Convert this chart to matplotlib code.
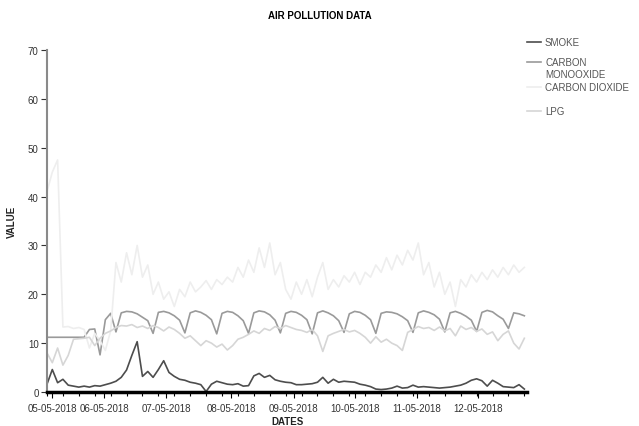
import numpy as np
import matplotlib
matplotlib.use("Agg")
import matplotlib.pyplot as plt
from matplotlib.lines import Line2D

plt.rcParams["font.family"] = ["Liberation Sans", "DejaVu Sans"]

# readings every 2 hours
hours = list(range(0, 181, 2))

smoke = [1.6, 4.6, 1.9, 2.6, 1.4, 1.2, 1.0, 1.2, 1.0, 1.3,
         1.2, 1.5, 1.8, 2.2, 3.0, 4.5, 7.5, 10.3, 3.2, 4.2,
         3.0, 4.6, 6.4, 4.0, 3.2, 2.6, 2.4, 2.0, 1.8, 1.5,
         0.1, 1.6, 2.2, 1.9, 1.6, 1.5, 1.7, 1.2, 1.3, 3.3,
         3.8, 3.0, 3.4, 2.5, 2.2, 2.0, 1.9, 1.5, 1.5, 1.6,
         1.7, 2.0, 3.0, 1.8, 2.6, 2.0, 2.2, 2.1, 2.0, 1.6,
         1.4, 1.1, 0.6, 0.5, 0.6, 0.8, 1.2, 0.8, 0.9, 1.4,
         1.0, 1.1, 1.0, 0.9, 0.8, 0.9, 1.0, 1.2, 1.4, 1.8,
         2.4, 2.7, 2.3, 1.2, 2.4, 1.8, 1.1, 1.0, 0.9, 1.5,
         0.6]

carbon_monoxide = [11.2, 11.2, 11.2, 11.2, 11.2, 11.2, 11.2, 11.2, 12.8, 12.9,
                   7.6, 14.8, 16.1, 12.3, 16.2, 16.5, 16.4, 16.0, 15.3, 14.6,
                   12.0, 16.3, 16.5, 16.2, 15.6, 14.7, 12.1, 16.2, 16.6, 16.3,
                   15.7, 14.8, 11.9, 16.1, 16.5, 16.3, 15.6, 14.6, 12.0, 16.2,
                   16.6, 16.4, 15.8, 14.7, 12.1, 16.1, 16.5, 16.3, 15.7, 14.8,
                   11.9, 16.2, 16.6, 16.2, 15.6, 14.6, 12.2, 16.0, 16.5, 16.3,
                   15.7, 14.8, 12.0, 16.1, 16.4, 16.3, 16.0, 15.4, 14.6, 12.2,
                   16.2, 16.6, 16.3, 15.8, 14.9, 12.3, 16.2, 16.5, 16.1, 15.5,
                   14.7, 12.4, 16.3, 16.7, 16.4, 15.6, 14.9, 13.0, 16.2, 16.0,
                   15.6]

carbon_dioxide = [41.0, 45.0, 47.5, 13.3, 13.4, 13.0, 13.2, 12.8, 9.0, 12.0,
                  10.5, 8.5, 12.5, 26.5, 22.5, 28.5, 24.0, 30.0, 23.5, 26.0,
                  20.0, 22.5, 19.0, 20.5, 17.5, 21.0, 19.5, 22.5, 20.5, 21.5,
                  22.8, 21.0, 23.0, 22.0, 23.5, 22.5, 25.5, 23.5, 27.0, 24.5,
                  29.5, 25.5, 30.5, 24.0, 26.5, 21.0, 19.0, 22.5, 20.0, 23.0,
                  19.5, 23.5, 26.5, 21.0, 23.0, 21.5, 23.8, 22.5, 24.5, 22.0,
                  24.5, 23.5, 26.0, 24.5, 27.5, 25.0, 28.0, 26.0, 29.0, 27.0,
                  30.5, 24.0, 26.5, 21.5, 24.5, 20.0, 22.5, 17.5, 23.0, 21.5,
                  24.0, 22.5, 24.5, 23.0, 25.0, 23.5, 25.5, 24.0, 26.0, 24.5,
                  25.5]

lpg = [8.0, 6.0, 9.0, 5.5, 7.5, 10.8, 10.9, 11.0, 11.2, 9.5,
       11.0, 12.0, 12.5, 13.2, 13.6, 13.5, 13.8, 13.2, 13.5, 13.0,
       13.6, 13.2, 12.5, 13.3, 12.8, 12.0, 11.0, 11.5, 10.5, 9.5,
       10.5, 10.0, 9.2, 9.8, 8.6, 9.5, 10.8, 11.2, 11.8, 12.5,
       12.0, 13.0, 12.6, 13.4, 13.0, 13.6, 13.2, 12.8, 12.6, 12.2,
       12.8, 11.5, 8.3, 11.5, 12.0, 12.4, 12.8, 12.3, 12.6, 12.0,
       11.2, 10.0, 11.3, 10.2, 10.8, 10.0, 9.5, 8.5, 12.2, 12.8,
       13.4, 13.0, 13.2, 12.6, 13.3, 12.5, 13.0, 11.5, 13.5, 12.8,
       13.2, 12.4, 12.9, 11.8, 12.3, 10.5, 11.8, 12.5, 10.0, 8.8,
       11.0]

tick_pos = [2, 21.5, 45, 69.5, 93, 116, 139.5, 162.5]
tick_labels = ["05-05-2018", "06-05-2018", "07-05-2018", "08-05-2018",
               "09-05-2018", "10-05-2018", "11-05-2018", "12-05-2018"]

names = ["SMOKE", "CARBON\nMONOOXIDE", "CARBON DIOXIDE", "LPG"]
colors = ["#4d4d4d", "#9a9a9a", "#eeeeee", "#d6d6d6"]
series = [smoke, carbon_monoxide, carbon_dioxide, lpg]

fig = plt.figure(figsize=(6.39, 4.27), dpi=100)
ax = fig.add_axes([47 / 639, 1 - 393 / 427, 480 / 639, 342 / 427])

for vals, col in zip(series, colors):
    ax.plot(hours, vals, color=col, lw=1.2)

ax.set_xlim(0, 181)
ax.set_ylim(0, 70)
ax.set_yticks(np.arange(0, 71, 10))
ax.set_xticks(tick_pos)
ax.set_xticklabels(tick_labels)
ax.set_xticks(np.arange(0, 181, 6), minor=True)
ax.tick_params(axis="both", labelsize=7, colors="#333333", length=4, width=0.8, pad=2)
ax.tick_params(axis="x", which="minor", length=3, width=0.8, color="black")
ax.tick_params(axis="x", which="major", color="black", pad=4)

for s in ["top", "right"]:
    ax.spines[s].set_visible(False)
ax.spines["left"].set_color("#8a8a8a")
ax.spines["left"].set_linewidth(1.5)
ax.spines["bottom"].set_color("black")
ax.spines["bottom"].set_linewidth(2.5)

ax.set_xlabel("DATES", fontsize=7, fontweight="bold", labelpad=2, color="#222222")
ax.set_ylabel("VALUE", fontsize=7, fontweight="bold", labelpad=8, color="#222222")
fig.suptitle("AIR POLLUTION DATA", fontsize=7, fontweight="bold", y=1 - 16 / 427, va="center")

# legend drawn by hand so the two-line label keeps its handle on the first line
leg_y = [43, 63, 88, 112]
for name, col, yy in zip(names, colors, leg_y):
    fy = 1 - yy / 427
    fig.add_artist(Line2D([527 / 639, 541 / 639], [fy, fy], color=col, lw=1.2,
                          transform=fig.transFigure))
    fig.text(545 / 639, fy + 5 / 427, name, fontsize=7, color="#555555",
             va="top", ha="left", linespacing=1.25)

fig.savefig("out.png", dpi=100)
